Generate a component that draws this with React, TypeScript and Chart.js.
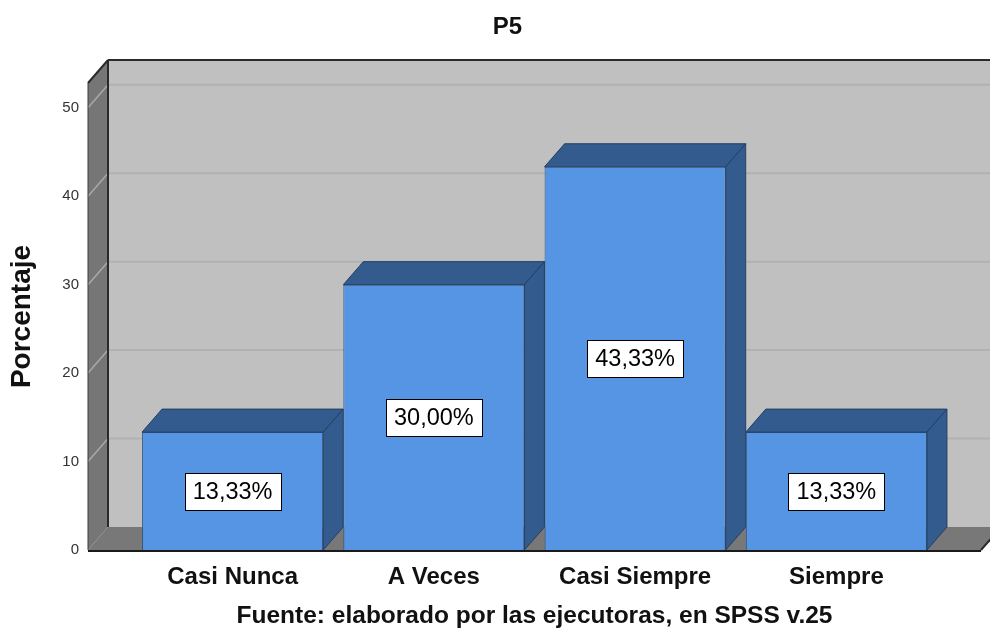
import React, { useEffect, useRef } from "react";
import { Chart, registerables } from "chart.js";

Chart.register(...registerables);

const categories = ["Casi Nunca", "A Veces", "Casi Siempre", "Siempre"];
const percentages = [13.33, 30.0, 43.33, 13.33];
const yTicks = [0, 10, 20, 30, 40, 50];
const chartTitle = "P5";
const yTitle = "Porcentaje";
const xTitle = "Fuente: elaborado por las ejecutoras, en SPSS v.25";

const FONT = "'Liberation Sans', Arial, Helvetica, sans-serif";
const DX = 20;
const DY = -23;
const SIDE = 44;
const FRONT = "#5595e4";
const DARK = "#335b8d";
const TITLE_LEFT_INSET = 78;

function poly(ctx: CanvasRenderingContext2D, pts: number[][], fill: string, stroke?: string, lw = 1) {
  ctx.beginPath();
  ctx.moveTo(pts[0][0], pts[0][1]);
  for (let i = 1; i < pts.length; i++) ctx.lineTo(pts[i][0], pts[i][1]);
  ctx.closePath();
  ctx.fillStyle = fill;
  ctx.fill();
  if (stroke) {
    ctx.strokeStyle = stroke;
    ctx.lineWidth = lw;
    ctx.stroke();
  }
}

function line(ctx: CanvasRenderingContext2D, x1: number, y1: number, x2: number, y2: number, color: string, lw: number) {
  ctx.beginPath();
  ctx.moveTo(x1, y1);
  ctx.lineTo(x2, y2);
  ctx.strokeStyle = color;
  ctx.lineWidth = lw;
  ctx.stroke();
}

const threeD = {
  id: "threeD",
  afterLayout(chart: any) {
    const t = chart.titleBlock;
    if (t) t.left = TITLE_LEFT_INSET;
  },
  beforeDatasetsDraw(chart: any) {
    const { ctx, chartArea: a } = chart;
    const y = chart.scales.y;
    const fl = a.left - SIDE;
    const fr = a.right + SIDE;
    const top = a.top;
    const bot = a.bottom;
    ctx.save();
    // back wall
    ctx.fillStyle = "#c0c0c0";
    ctx.fillRect(fl + DX, top + DY, fr - fl, bot - top);
    // back wall gridlines
    y.ticks.forEach((t: any) => {
      if (t.value === 0) return;
      const py = y.getPixelForValue(t.value);
      line(ctx, fl + DX, py + DY, fr + DX + 20, py + DY, "#b1b1b1", 2);
    });
    // left wall
    poly(ctx, [[fl, top], [fl + DX, top + DY], [fl + DX, bot + DY], [fl, bot]], "#767676");
    y.ticks.forEach((t: any) => {
      if (t.value === 0) return;
      const py = y.getPixelForValue(t.value);
      line(ctx, fl, py, fl + DX, py + DY, "#a9a9a9", 1.5);
    });
    // floor
    poly(ctx, [[fl, bot], [fl + DX, bot + DY], [fr + DX, bot + DY], [fr, bot]], "#787878");
    // edges
    line(ctx, fl + DX, top + DY, fr + DX + 20, top + DY, "#2a2a2a", 2);
    line(ctx, fl + DX, top + DY, fl + DX, bot + DY, "#2a2a2a", 2);
    line(ctx, fl, top, fl + DX, top + DY, "#2a2a2a", 2);
    line(ctx, fl, top, fl, bot, "#3a3a3a", 1);
    line(ctx, fr, bot, fr + DX, bot + DY, "#2a2a2a", 2);
    ctx.restore();
  },
  afterDatasetsDraw(chart: any) {
    const { ctx, chartArea: a } = chart;
    const meta = chart.getDatasetMeta(0);
    const data = chart.data.datasets[0].data as number[];
    ctx.save();
    meta.data.forEach((bar: any, i: number) => {
      const { x, y, base, width } = bar.getProps(["x", "y", "base", "width"], true);
      const l = x - width / 2;
      const r = x + width / 2;
      poly(ctx, [[l, y], [l + DX, y + DY], [r + DX, y + DY], [r, y]], DARK, "#233f62", 1);
      poly(ctx, [[r, y], [r + DX, y + DY], [r + DX, base + DY], [r, base]], DARK, "#233f62", 1);
      // label
      const txt = data[i].toFixed(2).replace(".", ",") + "%";
      ctx.font = `23.5px ${FONT}`;
      const tw = ctx.measureText(txt).width;
      const bw = Math.round(tw + 16);
      const bh = 37;
      const cy = (y + base) / 2;
      const bx = Math.round(x - bw / 2) + 0.5;
      const by = Math.round(cy - bh / 2) + 0.5;
      ctx.fillStyle = "#ffffff";
      ctx.fillRect(bx, by, bw, bh);
      ctx.strokeStyle = "#000000";
      ctx.lineWidth = 1;
      ctx.strokeRect(bx, by, bw, bh);
      ctx.fillStyle = "#000000";
      ctx.textAlign = "center";
      ctx.textBaseline = "middle";
      ctx.fillText(txt, x, cy + 1);
    });
    // floor front edge
    line(ctx, a.left - SIDE, a.bottom + 1, a.right + SIDE, a.bottom + 1, "#1a1a1a", 2);
    ctx.restore();
  },
};

export default function App() {
  const ref = useRef<HTMLCanvasElement | null>(null);
  useEffect(() => {
    if (!ref.current) return;
    const chart = new Chart(ref.current, {
      type: "bar",
      data: {
        labels: categories,
        datasets: [
          {
            data: percentages,
            backgroundColor: FRONT,
            borderColor: "#2f5583",
            borderWidth: 1,
            categoryPercentage: 1,
            barPercentage: 0.9,
          },
        ],
      },
      options: {
        responsive: false,
        animation: false,
        layout: { padding: { left: 0, right: 53, top: 0, bottom: 0 } },
        plugins: {
          legend: { display: false },
          tooltip: { enabled: false },
          title: {
            display: true,
            text: chartTitle,
            color: "#111",
            font: { family: FONT, size: 24, weight: "bold" },
            padding: { top: 13, bottom: 41.2 },
          },
        },
        scales: {
          x: {
            grid: { display: false },
            border: { display: false },
            ticks: {
              color: "#111",
              font: { family: FONT, size: 24, weight: "bold" },
              padding: 5,
              maxRotation: 0,
              autoSkip: false,
            },
            title: {
              display: true,
              text: xTitle,
              color: "#111",
              font: { family: FONT, size: 24.5, weight: "bold" },
              padding: { top: 0, bottom: 4 },
            },
            afterFit(scale: any) {
              scale.height = 85;
            },
          },
          y: {
            min: 0,
            max: 52.8,
            grid: { display: false },
            border: { display: false },
            ticks: {
              stepSize: 10,
              color: "#333",
              font: { family: FONT, size: 15 },
              padding: 45,
            },
            afterBuildTicks(scale: any) {
              scale.ticks = yTicks.map((v) => ({ value: v }));
            },
            title: {
              display: true,
              text: yTitle,
              color: "#111",
              font: { family: FONT, size: 28, weight: "bold" },
              padding: { top: 5, bottom: 0 },
            },
            afterFit(scale: any) {
              scale.width = 132;
            },
          },
        },
      },
      plugins: [threeD],
    });
    return () => chart.destroy();
  }, []);
  return (
    <div style={{ position: "absolute", left: 0, top: 0, width: 990, height: 635, background: "#fff" }}>
      <canvas ref={ref} width={990} height={635} />
    </div>
  );
}
